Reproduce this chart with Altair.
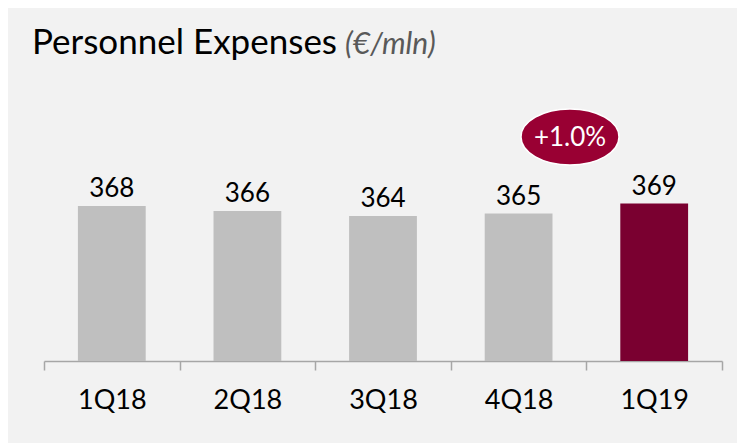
import altair as alt
import pandas as pd

quarters = ["1Q18", "2Q18", "3Q18", "4Q18", "1Q19"]
values = [368, 366, 364, 365, 369]
groups = ["base", "base", "base", "base", "highlight"]
badge_text = ["+1.0%"]
title_main = ["Personnel Expenses"]
title_unit = ["(€/mln)"]
y_min, y_max = 306, 410

df = pd.DataFrame({"quarter": quarters, "value": values, "group": groups})

W, H = 678, 260

x_enc = alt.X(
    "quarter:N", sort=quarters,
    scale=alt.Scale(paddingInner=0, paddingOuter=0),
    axis=alt.Axis(title=None, labelAngle=0, labelFont="Lato", labelFontSize=27,
                  labelColor="black", domainColor="#a6a6a6", domainWidth=1.5,
                  ticks=True, tickColor="#a6a6a6", tickWidth=1.5, tickSize=9, tickBand="extent",
                  labelPadding=17, labelBaseline="top"),
)
y_enc = alt.Y("value:Q", scale=alt.Scale(domain=[y_min, y_max], zero=False, nice=False), axis=None)

base = alt.Chart(df)
bars = base.mark_bar(width=alt.RelativeBandSize(0.5)).encode(
    x=x_enc, y=y_enc, y2=alt.datum(y_min),
    color=alt.Color("group:N", scale=alt.Scale(domain=["base", "highlight"], range=["#bfbfbf", "#7a0030"]), legend=None),
)
labels = base.mark_text(dy=-9, baseline="alphabetic", font="Lato", fontSize=26, color="black").encode(
    x=alt.X("quarter:N", sort=quarters), y="value:Q", text="value:Q"
)

t1 = alt.Chart(pd.DataFrame({"t": title_main})).mark_text(
    align="left", baseline="alphabetic", font="Lato", fontSize=35, color="black"
).encode(x=alt.value(-12), y=alt.value(-47), text="t:N")
t2 = alt.Chart(pd.DataFrame({"t": title_unit})).mark_text(
    align="left", baseline="alphabetic", font="Lato", fontSize=30, fontStyle="italic", color="#595959"
).encode(x=alt.value(301), y=alt.value(-47), text="t:N")

ellipse = "M -1 0 A 1 0.571 0 1 0 1 0 A 1 0.571 0 1 0 -1 0 Z"
badge = alt.Chart(pd.DataFrame({"t": badge_text})).mark_point(
    shape=ellipse, size=9604, filled=True, fill="#990033", stroke="white", strokeWidth=1.5, opacity=1
).encode(x=alt.value(526), y=alt.value(36))
badge_t = alt.Chart(pd.DataFrame({"t": badge_text})).mark_text(
    font="Lato", fontSize=26, color="white", baseline="middle", align="center"
).encode(x=alt.value(526), y=alt.value(37), text="t:N")

chart = alt.layer(bars, labels, t1, t2, badge, badge_t).properties(
    width=W, height=H,
    background="#f2f2f2",
    autosize=alt.AutoSizeParams(type="none"),
    padding={"left": 36, "top": 93, "right": 15, "bottom": 82},
).configure_view(stroke=None)

chart.save("out.html", embed_options={"renderer": "svg", "actions": False})
